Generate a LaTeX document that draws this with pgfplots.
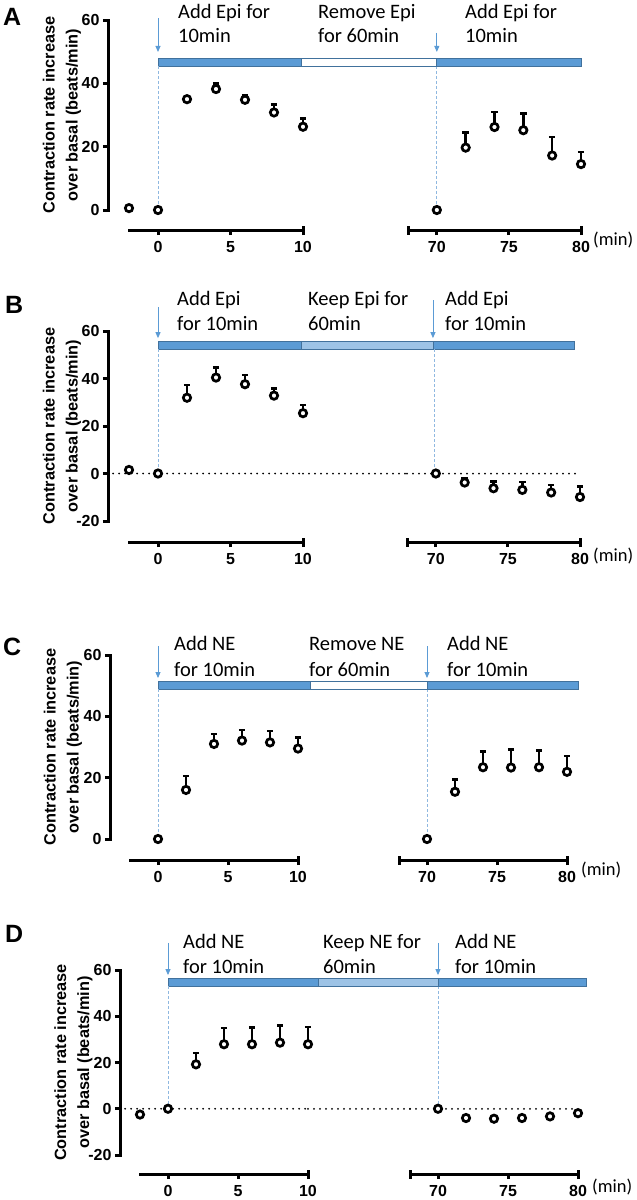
\documentclass[border=0pt]{standalone}
\usepackage{fontspec}
\setmainfont{Liberation Sans}
\newfontfamily\calfont{Carlito}
\usepackage{pgfplots}
\pgfplotsset{compat=1.18}
\usetikzlibrary{arrows.meta}

\definecolor{barblue}{HTML}{5B9BD5}
\definecolor{bardark}{HTML}{41719C}
\definecolor{barlight}{HTML}{9DC3E6}
\definecolor{arrowblue}{HTML}{5B9BD5}
\definecolor{dashblue}{HTML}{8FB8E0}

\tikzset{
  tbar/.style={draw=bardark, line width=0.8pt},
  arr/.style={arrowblue, line width=0.9pt, -{Triangle[length=6pt,width=5pt]}},
  dsh/.style={dashblue, line width=0.8pt, dash pattern=on 3pt off 2pt},
  zdot/.style={black, line width=2pt, line cap=round, dash pattern=on 0pt off 6pt},
  txt/.style={anchor=base west, inner sep=0pt, font=\calfont\fontsize{20.5}{24}\selectfont},
  plab/.style={anchor=base west, inner sep=0pt, font=\fontsize{25}{25}\selectfont\bfseries},
  mins/.style={anchor=base west, inner sep=0pt, font=\calfont\fontsize{18.5}{20}\selectfont},
}
\pgfplotsset{
  brk/.style={
    scale only axis, clip=false,
    axis line style={line width=3pt, black, line cap=rect},
    every tick/.style={line width=3pt, black},
    major tick length=5pt, tick align=outside,
    ticklabel style={font=\fontsize{16}{16}\selectfont\bfseries},
    x tick label style={yshift=-3pt},
    /pgf/number format/assume math mode=true,
    extra tick style={tick align=center, major tick length=9pt},
  },
  brkL/.style={brk, axis y line*=left, axis x line*=bottom, xmin=-2, xmax=10,
    xtick={0,5,10}, extra x ticks={10}, extra x tick labels={},
    ylabel={Contraction rate increase\\over basal (beats/min)},
    ylabel style={align=center, font=\fontsize{16.3}{23}\selectfont\bfseries, anchor=center}},
  brkR/.style={brk, axis y line=none, axis x line*=bottom, xmin=68, xmax=80,
    xtick={70,75,80}, extra x ticks={68,80}, extra x tick labels={}, ytick=\empty},
  dots/.style={black, only marks, mark=*, mark size=3.7pt,
    mark options={fill=white, draw=black, line width=2.7pt},
    error bars/.cd, y dir=plus, y explicit, error mark=-,
    error bar style={line width=2.5pt, black},
    error mark options={rotate=90, line width=2.5pt, black, mark size=3.2pt}},
}

\begin{document}
\begin{tikzpicture}
\path[use as bounding box] (0,0) rectangle (637pt,-1200pt);

% ================= Panel A =================
\node[plab] at (3pt,-25pt) {A};
\begin{axis}[brkL, at={(129pt,-210pt)}, anchor=south west, width=174pt, height=190pt,
  ymin=0, ymax=60, ytick={0,20,40,60}, axis y line shift=21pt, axis x line shift=20pt,
  ylabel style={at={(axis description cs:-0.385,0.5)}}]
  \draw[tbar, fill=barblue] (axis cs:0,45.5) rectangle (axis cs:9.9,48);
  \coordinate (A1) at (axis cs:9.9,45.5);
  \draw[dsh] (axis cs:0,45.5) -- (axis cs:0,1.6);
  \draw[arr] (axis cs:0,60.6) -- (axis cs:0,49.9);
  \addplot[dots] table[row sep=\\, y error=e] {
    x y e\\ -2 0.6 0\\ 0 0 0\\ 2 35.0 0.8\\ 4 38.2 1.8\\ 6 34.8 1.4\\ 8 30.8 2.5\\ 10 26.3 2.6\\};
\end{axis}
\begin{axis}[brkR, at={(408pt,-210pt)}, anchor=south west, width=173pt, height=190pt,
  ymin=0, ymax=60, axis x line shift=20pt]
  \draw[tbar, fill=barblue] (axis cs:70,45.5) rectangle (axis cs:80,48);
  \coordinate (A2) at (axis cs:70,48);
  \draw[dsh] (axis cs:70,45.5) -- (axis cs:70,1.6);
  \draw[arr] (axis cs:70,55.9) -- (axis cs:70,49.9);
  \addplot[dots] table[row sep=\\, y error=e] {
    x y e\\ 70 0 0\\ 72 19.7 4.7\\ 74 26.2 4.7\\ 76 25.2 5.3\\ 78 17.2 5.9\\ 80 14.5 3.8\\};
\end{axis}
\draw[tbar, fill=white] (A1) rectangle (A2);
\node[txt] at (178pt,-18pt) {Add Epi for};
\node[txt] at (178pt,-42pt) {10min};
\node[txt] at (318pt,-18pt) {Remove Epi};
\node[txt] at (318pt,-42pt) {for 60min};
\node[txt] at (465pt,-18pt) {Add Epi for};
\node[txt] at (465pt,-42pt) {10min};
\node[mins] at (593pt,-245pt) {(min)};

% ================= Panel B =================
\node[plab] at (5pt,-313pt) {B};
\begin{axis}[brkL, at={(129pt,-521pt)}, anchor=south west, width=174pt, height=190pt,
  ymin=-20, ymax=60, ytick={-20,0,20,40,60}, axis y line shift=21pt, axis x line shift=21pt,
  ylabel style={at={(axis description cs:-0.385,0.5)}}]
  \draw[tbar, fill=barblue] (axis cs:0,52.4) rectangle (axis cs:9.9,55.8);
  \coordinate (B1) at (axis cs:9.9,52.4);
  \coordinate (Bz1) at (axis cs:10,0);
  \draw[zdot] (axis cs:-3.1,0) -- (axis cs:10,0);
  \draw[dsh] (axis cs:0,52.4) -- (axis cs:0,2);
  \draw[arr] (axis cs:0,70.1) -- (axis cs:0,57.0);
  \addplot[dots] table[row sep=\\, y error=e] {
    x y e\\ -2 1.5 0\\ 0 0 0\\ 2 31.9 5.3\\ 4 40.4 4.3\\ 6 37.6 3.8\\ 8 32.8 3.0\\ 10 25.4 3.5\\};
\end{axis}
\begin{axis}[brkR, at={(407pt,-521pt)}, anchor=south west, width=173pt, height=190pt,
  ymin=-20, ymax=60, axis x line shift=21pt]
  \draw[tbar, fill=barblue] (axis cs:69.8,52.4) rectangle (axis cs:79.6,55.8);
  \coordinate (B2) at (axis cs:69.8,55.8);
  \coordinate (Bz2) at (axis cs:68,0);
  \draw[zdot] (axis cs:68,0) -- (axis cs:80,0);
  \draw[dsh] (axis cs:69.9,52.4) -- (axis cs:69.9,2);
  \draw[arr] (axis cs:69.8,73.0) -- (axis cs:69.8,57.0);
  \addplot[dots] table[row sep=\\, y error=e] {
    x y e\\ 70 0 0\\ 72 -3.8 1.9\\ 74 -6.2 2.8\\ 76 -6.9 3.3\\ 78 -8.0 3.2\\ 80 -9.9 4.4\\};
\end{axis}
\draw[tbar, fill=barlight] (B1) rectangle (B2);
\draw[zdot] (Bz1) -- (Bz2);
\node[txt] at (177pt,-305pt) {Add Epi};
\node[txt] at (177pt,-330pt) {for 10min};
\node[txt] at (308pt,-305pt) {Keep Epi for};
\node[txt] at (308pt,-330pt) {60min};
\node[txt] at (445pt,-305pt) {Add Epi};
\node[txt] at (445pt,-330pt) {for 10min};
\node[mins] at (593pt,-561pt) {(min)};

% ================= Panel C =================
\node[plab] at (3pt,-655pt) {C};
\begin{axis}[brkL, at={(130pt,-839pt)}, anchor=south west, width=168pt, height=184pt,
  ymin=0, ymax=60, ytick={0,20,40,60}, axis y line shift=20pt, axis x line shift=21pt,
  ylabel style={at={(axis description cs:-0.399,0.5)}}]
  \draw[tbar, fill=barblue] (axis cs:0,48.9) rectangle (axis cs:10.86,51.5);
  \coordinate (C1) at (axis cs:10.86,48.9);
  \draw[dsh] (axis cs:0,48.9) -- (axis cs:0,1.6);
  \draw[arr] (axis cs:0,62.9) -- (axis cs:0,52.5);
  \addplot[dots] table[row sep=\\, y error=e] {
    x y e\\ 0 0 0\\ 2 16.0 4.5\\ 4 31.0 3.2\\ 6 32.1 3.5\\ 8 31.5 3.7\\ 10 29.5 3.6\\};
\end{axis}
\begin{axis}[brkR, at={(399pt,-839pt)}, anchor=south west, width=168pt, height=184pt,
  ymin=0, ymax=60, axis x line shift=21pt]
  \draw[tbar, fill=barblue] (axis cs:70,48.9) rectangle (axis cs:80.8,51.5);
  \coordinate (C2) at (axis cs:70,51.5);
  \draw[dsh] (axis cs:70,48.9) -- (axis cs:70,1.6);
  \draw[arr] (axis cs:70,62.9) -- (axis cs:70,52.5);
  \addplot[dots] table[row sep=\\, y error=e] {
    x y e\\ 70 0 0\\ 72 15.4 4.0\\ 74 23.4 5.1\\ 76 23.3 5.9\\ 78 23.4 5.4\\ 80 21.9 5.2\\};
\end{axis}
\draw[tbar, fill=white] (C1) rectangle (C2);
\node[txt] at (174pt,-650pt) {Add NE};
\node[txt] at (174pt,-676pt) {for 10min};
\node[txt] at (309pt,-650pt) {Remove NE};
\node[txt] at (309pt,-676pt) {for 60min};
\node[txt] at (447pt,-650pt) {Add NE};
\node[txt] at (447pt,-676pt) {for 10min};
\node[mins] at (581pt,-875pt) {(min)};

% ================= Panel D =================
\node[plab] at (5pt,-942pt) {D};
\begin{axis}[brkL, at={(140pt,-1155pt)}, anchor=south west, width=168pt, height=185pt,
  ymin=-20, ymax=60, ytick={-20,0,20,40,60}, axis y line shift=20pt, axis x line shift=19pt,
  ylabel style={at={(axis description cs:-0.397,0.5)}}]
  \draw[tbar, fill=barblue] (axis cs:0,53.1) rectangle (axis cs:10.71,56.5);
  \coordinate (D1) at (axis cs:10.71,53.1);
  \coordinate (Dz1) at (axis cs:10,0);
  \draw[zdot] (axis cs:-3.07,0) -- (axis cs:10,0);
  \draw[dsh] (axis cs:0,53.1) -- (axis cs:0,2);
  \draw[arr] (axis cs:0,71.7) -- (axis cs:0,57.8);
  \addplot[dots] table[row sep=\\, y error=e] {
    x y e\\ -2 -2.5 0\\ 0 0 0\\ 2 19.2 4.9\\ 4 27.9 7.1\\ 6 27.9 7.2\\ 8 28.6 7.4\\ 10 27.9 7.4\\};
\end{axis}
\begin{axis}[brkR, at={(410pt,-1155pt)}, anchor=south west, width=168pt, height=185pt,
  ymin=-20, ymax=60, axis x line shift=19pt]
  \draw[tbar, fill=barblue] (axis cs:70,53.1) rectangle (axis cs:80.57,56.5);
  \coordinate (D2) at (axis cs:70,56.5);
  \coordinate (Dz2) at (axis cs:68,0);
  \draw[zdot] (axis cs:68,0) -- (axis cs:80,0);
  \draw[dsh] (axis cs:70,53.1) -- (axis cs:70,2);
  \draw[arr] (axis cs:70,71.7) -- (axis cs:70,57.8);
  \addplot[dots] table[row sep=\\, y error=e] {
    x y e\\ 70 0 0\\ 72 -4.0 0\\ 74 -4.3 0\\ 76 -4.0 0\\ 78 -3.3 0\\ 80 -1.9 0\\};
\end{axis}
\draw[tbar, fill=barlight] (D1) rectangle (D2);
\draw[zdot] (Dz1) -- (Dz2);
\node[txt] at (183pt,-948pt) {Add NE};
\node[txt] at (183pt,-973pt) {for 10min};
\node[txt] at (323pt,-948pt) {Keep NE for};
\node[txt] at (323pt,-973pt) {60min};
\node[txt] at (455pt,-948pt) {Add NE};
\node[txt] at (455pt,-973pt) {for 10min};
\node[mins] at (592pt,-1192pt) {(min)};
\end{tikzpicture}
\end{document}
